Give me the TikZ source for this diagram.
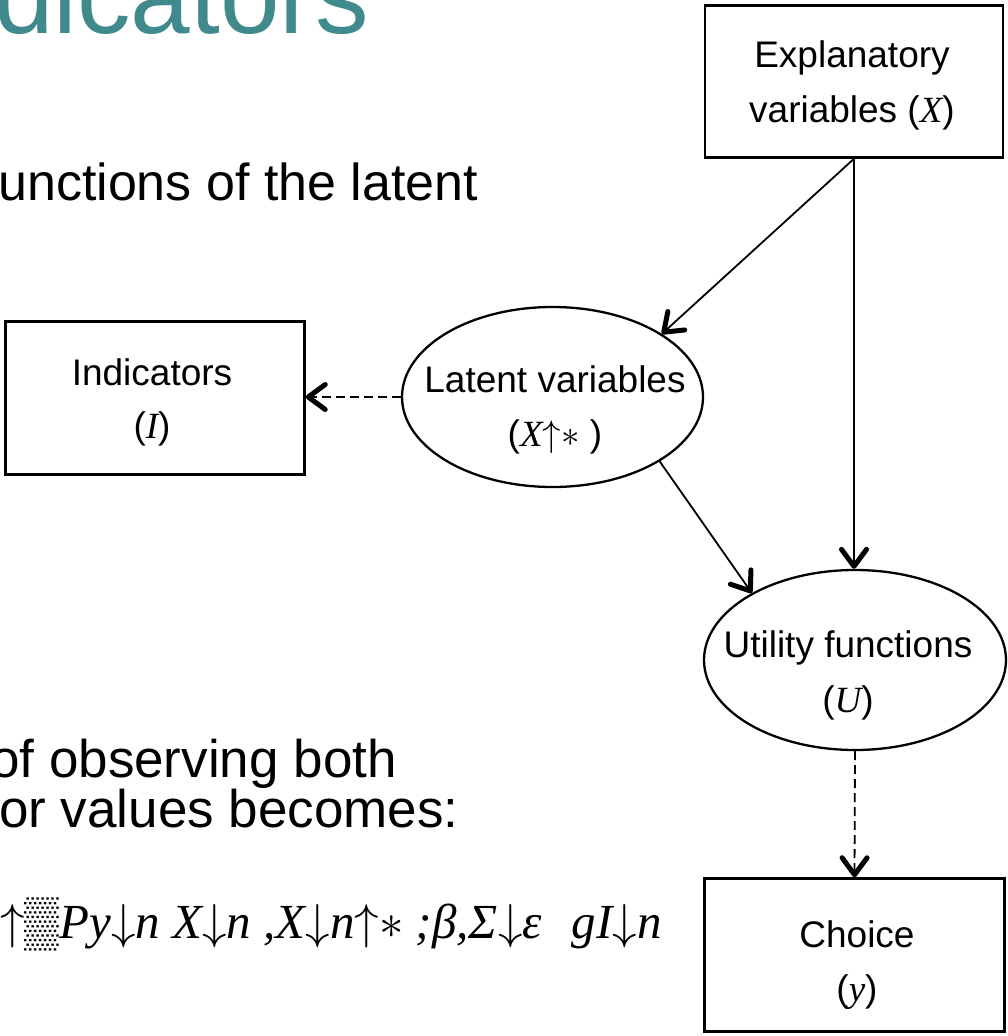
\RequirePackage{fix-cm}
\documentclass[tikz,border=0pt]{standalone}
\usepackage{fontspec}
\setmainfont{Liberation Sans}
\newfontfamily\varfont{Liberation Serif}
\usetikzlibrary{arrows.meta,shapes.geometric}

\definecolor{titleteal}{RGB}{64,137,141}

% italic serif variable names and the thin arrow / asterisk glyphs
\newcommand{\vv}[1]{{\varfont\itshape #1}}
\newcommand{\uarr}{\ensuremath{\uparrow}}
\newcommand{\darr}{\ensuremath{\downarrow}}
\newcommand{\starop}{\ensuremath{\ast}}

\tikzset{
  boxnode/.style={draw, line width=2.5pt, rectangle, inner sep=0pt},
  ovalnode/.style={draw, line width=2.3pt, ellipse, inner sep=0pt},
  lbl/.style={anchor=base, inner sep=0pt, font=\fontsize{37}{44}\selectfont},
  bodytext/.style={anchor=base west, inner sep=0pt, font=\fontsize{53}{60}\selectfont},
  tip/.style={-{Straight Barb[length=17pt,width=25pt,line width=5pt,round]}},
  conn/.style={tip, line width=1.8pt},
  dconn/.style={tip, line width=1.8pt, dash pattern=on 9pt off 5pt},
}

\begin{document}
\begin{tikzpicture}[x=1pt, y=-1pt]
\useasboundingbox (0,0) rectangle (1008,1036);
\clip (0,0) rectangle (1008,1036);

% slide text behind the diagram
\node[anchor=base west, inner sep=0pt, text=titleteal,
      font=\fontsize{107}{120}\selectfont] (title) at (-6,33) {dicators};
\node[bodytext, font=\fontsize{52}{60}\selectfont] (body1) at (-2,200) {unctions of the latent};
\node[bodytext] (body2) at (-10,777) {of observing both};
\node[bodytext] (body3) at (-1,827) {or values becomes:};
\node[anchor=base west, inner sep=0pt, font=\fontsize{49}{54}\selectfont] (formula) at (0,938)
  {\vv{\uarr▒Py\darr n X\darr n ,X\darr n\uarr\starop\ ;β,Σ\darr ε\hspace{30pt}gI\darr n}};

% boxes and ovals
\node[boxnode, minimum width=298pt, minimum height=152pt] (expl) at (854,81.5) {};
\node[boxnode, minimum width=299pt, minimum height=153pt] (ind) at (155,398) {};
\node[boxnode, minimum width=300pt, minimum height=153pt] (choice) at (854.5,955) {};
\node[ovalnode, minimum width=301pt, minimum height=180pt] (latent) at (552.5,397) {};
\node[ovalnode, minimum width=302pt, minimum height=180pt] (util) at (855,660) {};

% labels
\node[lbl] (explA) at (852,67) {Explanatory};
\node[lbl] (explB) at (852,122) {variables (\vv{X})};
\node[lbl] (indA) at (152,385) {Indicators};
\node[lbl] (indB) at (152,438) {(\vv{I})};
\node[lbl] (latA) at (555,392) {Latent variables};
\node[lbl] (latB) at (555,446) {(\vv{X}\uarr\starop\ )};
\node[lbl] (utA) at (848,657) {Utility functions};
\node[lbl] (utB) at (848,712) {(\vv{U})};
\node[lbl] (chA) at (857,947) {Choice};
\node[lbl] (chB) at (857,1001) {(\vv{y})};

% connectors
\draw[conn] (expl.south) -- (latent.30.8);
\draw[conn] (expl.south) -- (expl.south |- util.north);
\draw[conn] (latent.-31.2) -- (util.147.5);
\draw[dconn] (latent.west) -- (latent.west -| ind.east);
\draw[dconn] (util.south) -- (choice.north);
\end{tikzpicture}
\end{document}
